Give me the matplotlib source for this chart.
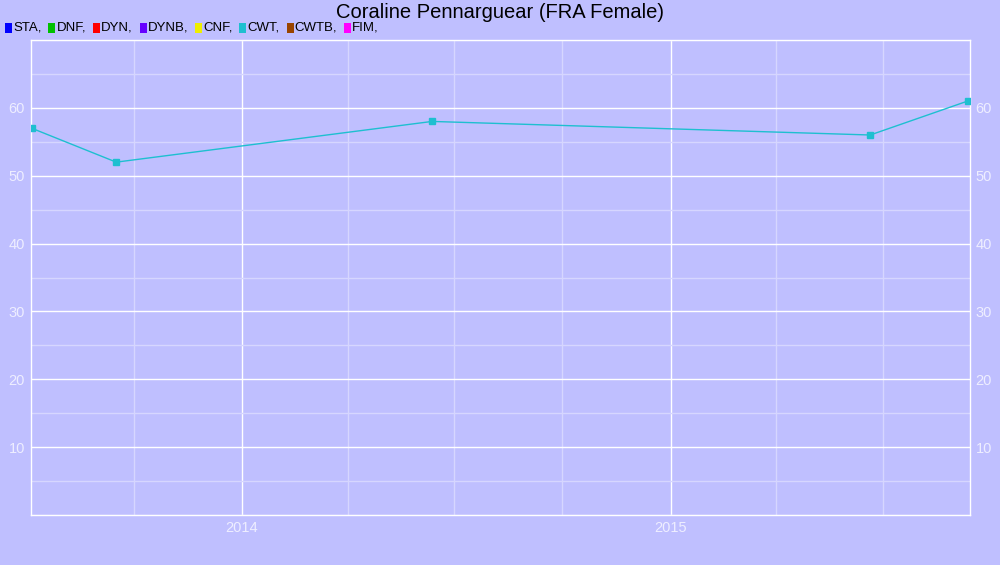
import numpy as np
import pandas as pd
import matplotlib
matplotlib.use('Agg')
import matplotlib.pyplot as plt
import matplotlib.dates as mdates
from matplotlib.patches import Rectangle
from matplotlib.ticker import MultipleLocator

plt.rcParams['font.family'] = ['Liberation Sans', 'DejaVu Sans']

# CWT results
dates = pd.to_datetime(['2013-07-06', '2013-09-16', '2014-06-12', '2015-06-20', '2015-09-11'])
values = [57, 52, 58, 56, 61]

legend_names = ['STA', 'DNF', 'DYN', 'DYNB', 'CNF', 'CWT', 'CWTB', 'FIM']
legend_colors = ['#0000ff', '#00c000', '#ff0000', '#6600ff', '#eeee00', '#1ebfd0', '#994400', '#ff00ff']

bg = '#bfbfff'
tick_col = '#eeeeff'

fig = plt.figure(figsize=(10, 5.65), dpi=100, facecolor=bg)
ax = fig.add_axes([30.5 / 1000, 50 / 565, 939.5 / 1000, 475 / 565])
ax.set_facecolor(bg)

ax.plot(dates, values, color='#1ebfd0', lw=1, marker='s', ms=5, zorder=3)

ax.set_xlim(pd.Timestamp('2013-07-05'), pd.Timestamp('2015-09-13'))
ax.set_ylim(0, 70)

ax.xaxis.set_major_locator(mdates.YearLocator())
ax.xaxis.set_major_formatter(mdates.DateFormatter('%Y'))
ax.xaxis.set_minor_locator(mdates.MonthLocator(bymonth=[4, 7, 10]))
ax.yaxis.set_major_locator(MultipleLocator(10))
ax.yaxis.set_minor_locator(MultipleLocator(5))

ax.grid(which='major', color='white', lw=1)
ax.grid(which='minor', color='#d6d6ff', lw=1)
ax.set_axisbelow(True)

ax.tick_params(which='both', length=0, colors=tick_col, labelsize=10.5, pad=4)
ax.tick_params(axis='y', labelright=True, right=False)
ax.set_yticks([10, 20, 30, 40, 50, 60])
for s in ax.spines.values():
    s.set_color('white')
    s.set_linewidth(1)

fig.text(0.5, 1 - 12 / 565, 'Coraline Pennarguear (FRA Female)', ha='center', va='center',
         fontsize=14.5, color='black')

# legend row across the top
fig.canvas.draw()
renderer = fig.canvas.get_renderer()
x = 5
y_mid = 28
for name, col in zip(legend_names, legend_colors):
    fig.patches.append(Rectangle((x / 1000, (565 - 33) / 565), 7 / 1000, 10 / 565,
                                 transform=fig.transFigure, facecolor=col, edgecolor='none'))
    t = fig.text((x + 8) / 1000, 1 - y_mid / 565, name + ',', ha='left', va='center',
                 fontsize=9.5, color='black')
    w = t.get_window_extent(renderer).width
    x = x + 8 + w + 7

fig.savefig('out.png', dpi=100, facecolor=bg)
